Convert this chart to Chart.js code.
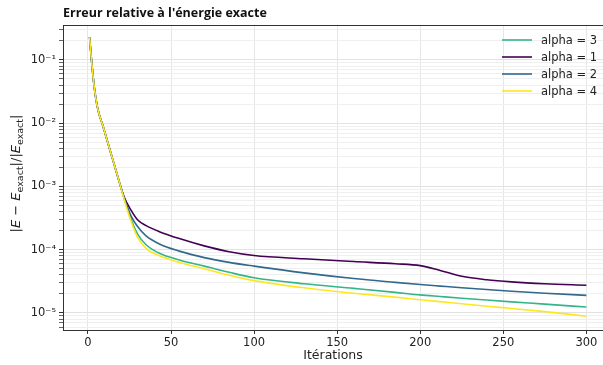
<!DOCTYPE html>
<html>
<head>
<meta charset="utf-8">
<script src="https://cdn.jsdelivr.net/npm/chart.js@4.4.0/dist/chart.umd.min.js"></script>
<style>
  html, body { margin: 0; padding: 0; background: #fff; overflow: hidden; }
</style>
</head>
<body>
<canvas id="errChart" width="603" height="365"></canvas>
<script>
// sampled iterations (same for every run)
const iterations = [1, 2, 3, 4, 6, 9, 12, 15, 17, 19, 22, 26, 30, 35, 43, 55, 70, 85, 100, 130, 160, 185, 200, 212, 225, 240, 255, 275, 300];

// relative error |E - E_exact| / |E_exact| for each alpha
const errAlpha1 = [0.23, 0.11, 0.058, 0.034, 0.0165, 0.0091, 0.0049, 2.63e-3, 1.74e-3, 1.15e-3, 6.6e-4, 4.2e-4, 2.95e-4, 2.4e-4, 1.93e-4, 1.5e-4, 1.15e-4, 9.3e-5, 8.1e-5, 7.2e-5, 6.5e-5, 6.0e-5, 5.6e-5, 4.7e-5, 3.8e-5, 3.35e-5, 3.1e-5, 2.9e-5, 2.75e-5];
const errAlpha2 = [0.23, 0.11, 0.058, 0.034, 0.0165, 0.0091, 0.0049, 2.63e-3, 1.74e-3, 1.15e-3, 6.4e-4, 3.4e-4, 2.3e-4, 1.65e-4, 1.23e-4, 9.5e-5, 7.5e-5, 6.3e-5, 5.5e-5, 4.3e-5, 3.5e-5, 3.05e-5, 2.82e-5, 2.66e-5, 2.5e-5, 2.35e-5, 2.2e-5, 2.05e-5, 1.9e-5];
const errAlpha3 = [0.23, 0.11, 0.058, 0.034, 0.0165, 0.0091, 0.0049, 2.63e-3, 1.74e-3, 1.15e-3, 6.2e-4, 3.0e-4, 1.75e-4, 1.2e-4, 8.8e-5, 6.9e-5, 5.5e-5, 4.4e-5, 3.6e-5, 2.9e-5, 2.45e-5, 2.12e-5, 1.93e-5, 1.82e-5, 1.71e-5, 1.6e-5, 1.5e-5, 1.38e-5, 1.24e-5];
const errAlpha4 = [0.23, 0.11, 0.058, 0.034, 0.0165, 0.0091, 0.0049, 2.63e-3, 1.74e-3, 1.15e-3, 6.0e-4, 2.8e-4, 1.55e-4, 1.05e-4, 8.0e-5, 6.3e-5, 5.0e-5, 3.95e-5, 3.25e-5, 2.5e-5, 2.05e-5, 1.78e-5, 1.62e-5, 1.51e-5, 1.4e-5, 1.28e-5, 1.18e-5, 1.05e-5, 8.9e-6];

const seriesLabels = ['alpha = 3', 'alpha = 1', 'alpha = 2', 'alpha = 4'];
const seriesValues = [errAlpha3, errAlpha1, errAlpha2, errAlpha4];
const seriesColors = ['#35b48a', '#440154', '#31688e', '#fde725'];

const xTicks = [0, 50, 100, 150, 200, 250, 300];

const FONT = 'DejaVu Sans';
const SUP = { '-': '⁻', '0': '⁰', '1': '¹', '2': '²', '3': '³', '4': '⁴', '5': '⁵', '6': '⁶', '7': '⁷', '8': '⁸', '9': '⁹' };

function mantissa(v) {
  return v / Math.pow(10, Math.floor(Math.log10(v) + 1e-9));
}
function isDecade(v) { return Math.abs(mantissa(v) - 1) < 1e-6; }
function isWhole(v) { const m = mantissa(v); return Math.abs(m - Math.round(m)) < 1e-6; }

const datasets = seriesValues.map((vals, i) => ({
  label: seriesLabels[i],
  data: iterations.map((it, k) => ({ x: it, y: vals[k] })),
  borderColor: seriesColors[i],
  borderWidth: 1.6,
  pointRadius: 0,
  fill: false,
  cubicInterpolationMode: 'monotone',
  order: seriesValues.length - i   // later series drawn on top
}));

// title, top spine, y label with subscripts and the legend
const decorations = {
  id: 'decorations',
  afterDraw(chart) {
    const ctx = chart.ctx;
    const a = chart.chartArea;
    ctx.save();

    ctx.strokeStyle = '#333';
    ctx.lineWidth = 1;
    ctx.beginPath();
    ctx.moveTo(a.left, a.top + 0.5);
    ctx.lineTo(a.right, a.top + 0.5);
    ctx.stroke();

    ctx.fillStyle = '#111';
    ctx.font = 'bold 12.5px "Open Sans"';
    ctx.textBaseline = 'alphabetic';
    ctx.textAlign = 'left';
    ctx.fillText("Erreur relative à l'énergie exacte", a.left, 17);

    // |E − E_exact|/|E_exact|
    const parts = [
      ['|', 'n'], ['E', 'i'], [' − ', 'n'], ['E', 'i'], ['exact', 's'],
      ['|/|', 'n'], ['E', 'i'], ['exact', 's'], ['|', 'n']
    ];
    const fontFor = k => k === 'i' ? 'italic 13px "' + FONT + '"' : k === 's' ? '9.5px "' + FONT + '"' : '13px "' + FONT + '"';
    let total = 0;
    parts.forEach(p => { ctx.font = fontFor(p[1]); total += ctx.measureText(p[0]).width; });
    ctx.translate(20, (a.top + a.bottom) / 2 - 4);
    ctx.rotate(-Math.PI / 2);
    ctx.fillStyle = '#222';
    let px = -total / 2;
    parts.forEach(p => {
      ctx.font = fontFor(p[1]);
      ctx.fillText(p[0], px, p[1] === 's' ? 3 : 0);
      px += ctx.measureText(p[0]).width;
    });
    ctx.setTransform(1, 0, 0, 1, 0, 0);

    // legend
    const rows = [40, 57, 74, 91];
    ctx.font = '11.5px "' + FONT + '"';
    ctx.textBaseline = 'middle';
    seriesLabels.forEach((lab, i) => {
      ctx.strokeStyle = seriesColors[i];
      ctx.lineWidth = 1.6;
      ctx.beginPath();
      ctx.moveTo(502, rows[i]);
      ctx.lineTo(532, rows[i]);
      ctx.stroke();
      ctx.fillStyle = '#222';
      ctx.fillText(lab, 541, rows[i] + 1);
    });
    ctx.restore();
  }
};

new Chart(document.getElementById('errChart'), {
  type: 'line',
  data: { datasets },
  options: {
    responsive: false,
    animation: false,
    devicePixelRatio: 1,
    layout: { padding: { top: 25, left: 0, right: 0, bottom: 0 } },
    plugins: { legend: { display: false }, tooltip: { enabled: false }, title: { display: false } },
    scales: {
      x: {
        type: 'linear',
        min: -15,
        max: 310,
        afterBuildTicks: s => { s.ticks = xTicks.map(v => ({ value: v })); },
        afterFit: s => { s.height = 35; },
        grid: { color: '#e6e6e6', lineWidth: 1, tickLength: 4, tickColor: '#333' },
        border: { color: '#333', width: 1 },
        ticks: { color: '#222', font: { family: FONT, size: 11.5 }, padding: 2, maxRotation: 0 },
        title: { display: true, text: 'Itérations', color: '#222', font: { family: FONT, size: 12.5 }, padding: { top: 0, bottom: 2 } }
      },
      y: {
        type: 'logarithmic',
        min: 5.38e-6,
        max: 0.357,
        afterFit: s => { s.width = 63; },
        grid: {
          color: c => isDecade(c.tick.value) ? '#e2e2e2' : (isWhole(c.tick.value) ? '#efefef' : 'rgba(0,0,0,0)'),
          tickColor: c => isDecade(c.tick.value) ? '#333' : (isWhole(c.tick.value) ? '#666' : 'rgba(0,0,0,0)'),
          lineWidth: 1,
          tickLength: 4
        },
        border: { color: '#333', width: 1 },
        ticks: {
          autoSkip: false,
          color: '#222',
          font: { family: FONT, size: 11.5 },
          padding: 3,
          callback: v => {
            if (!isDecade(v)) return '';
            const e = String(Math.round(Math.log10(v)));
            return '10' + e.split('').map(ch => SUP[ch]).join('');
          }
        }
      }
    }
  },
  plugins: [decorations]
});
</script>
</body>
</html>
